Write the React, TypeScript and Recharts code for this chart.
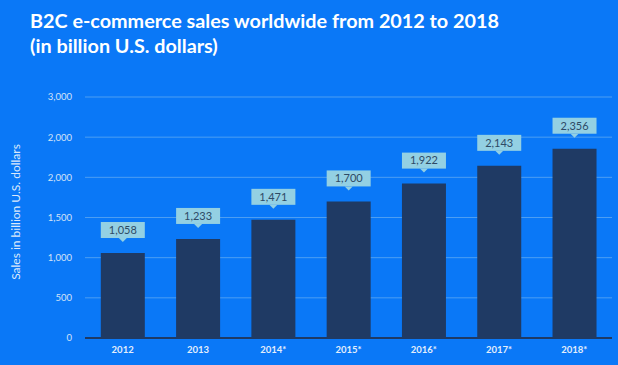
import { Bar, BarChart, CartesianGrid, LabelList, XAxis, YAxis } from 'recharts'

const years = ['2012', '2013', '2014*', '2015*', '2016*', '2017*', '2018*']
const sales = [1058, 1233, 1471, 1700, 1922, 2143, 2356]
const yTicks = [0, 500, 1000, 1500, 2000, 2500, 3000]
// the source image labels the 2,500 line as "2,000" too
const yTickLabels = ['0', '500', '1,000', '1,500', '2,000', '2,000', '3,000']

const data = years.map((year, i) => ({ year, sales: sales[i] }))

const BG = '#0a78f7'
const BAR = '#1f3a64'

function Callout(props: any) {
  const { x, y, width, value } = props
  const bottom = y - 15
  const h = 16
  const cx = x + width / 2
  return (
    <g>
      <rect x={x} y={bottom - h} width={width} height={h} fill="#93d0e3" />
      <path d={`M${cx - 4},${bottom} L${cx + 4},${bottom} L${cx},${bottom + 4} Z`} fill="#93d0e3" />
      <text x={cx} y={bottom - h / 2} dy="0.35em" textAnchor="middle" fontSize={11} fill="#2e4a66" fontFamily="Lato, sans-serif">
        {value.toLocaleString('en-US')}
      </text>
    </g>
  )
}

export default function App() {
  return (
    <div style={{ position: 'absolute', top: 0, left: 0, width: 618, height: 365, background: BG, overflow: 'hidden', fontFamily: 'Lato, sans-serif' }}>
      <div style={{ position: 'absolute', left: 30, top: 8, color: '#fff', fontSize: 19.8, fontWeight: 700, lineHeight: '25px' }}>
        B2C e-commerce sales worldwide from 2012 to 2018
        <br />
        (in billion U.S. dollars)
      </div>
      <div style={{ position: 'absolute', left: 15, top: 212, width: 0, height: 0 }}>
        <div style={{ position: 'absolute', transform: 'translate(-50%, -50%) rotate(-90deg)', whiteSpace: 'nowrap', color: '#dbe9fb', fontSize: 12 }}>
          Sales in billion U.S. dollars
        </div>
      </div>
      <BarChart width={618} height={365} data={data} margin={{ top: 97, right: 6, left: 0, bottom: 0 }} barCategoryGap="21%">
        <CartesianGrid vertical={false} stroke="#4d9ef2" strokeWidth={1} />
        <XAxis
          dataKey="year"
          height={27}
          axisLine={{ stroke: BAR, strokeWidth: 2 }}
          tickLine={false}
          tick={{ fill: '#e4eefb', fontSize: 9.5, fontWeight: 700 }}
        />
        <YAxis
          width={85}
          domain={[0, 3000]}
          ticks={yTicks}
          interval={0}
          axisLine={false}
          tickLine={false}
          tickMargin={7}
          tickFormatter={(_v: number, i: number) => yTickLabels[i]}
          tick={{ fill: '#d3e3f7', fontSize: 9.5 }}
        />
        <Bar dataKey="sales" fill={BAR} isAnimationActive={false}>
          <LabelList dataKey="sales" content={<Callout />} />
        </Bar>
      </BarChart>
    </div>
  )
}
